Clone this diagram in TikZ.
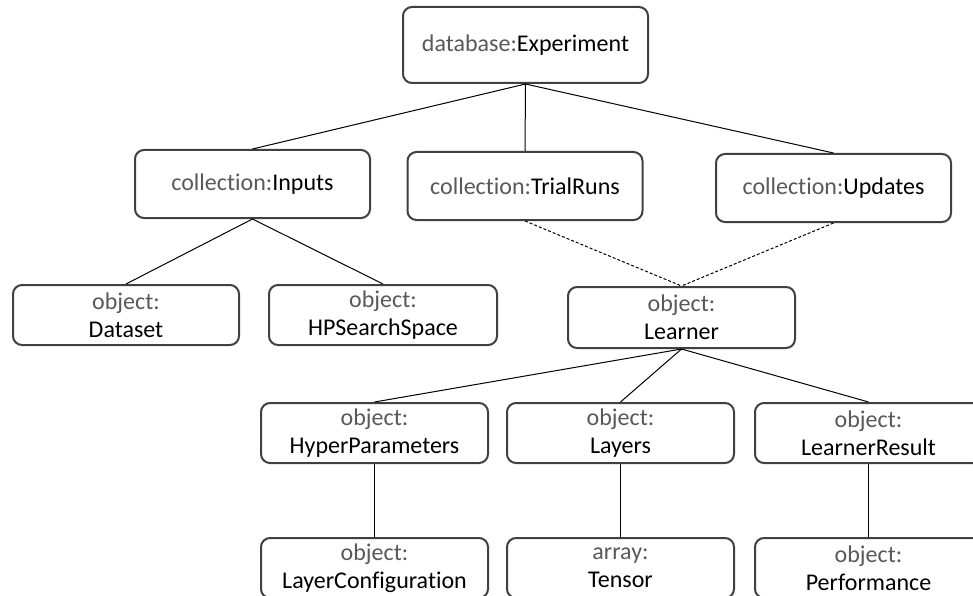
\documentclass[tikz,border=0pt]{standalone}
\usepackage{fontspec}
\setmainfont[Ligatures={NoCommon,NoContextual}]{Carlito}
\definecolor{boxline}{HTML}{404040}
\definecolor{pre}{HTML}{595959}
\begin{document}
\begin{tikzpicture}[x=1pt,y=-1pt,
 box/.style={draw=boxline, line width=2pt, rounded corners=9pt, fill=white, inner sep=0pt, align=center, font=\fontsize{24}{28}\selectfont},
 coll/.style={box, minimum width=235pt, minimum height=68pt},
 obj/.style={box, minimum width=227pt, minimum height=60pt},
 link/.style={line width=1pt},
 dlink/.style={line width=1pt, dash pattern=on 3pt off 2pt}]
\useasboundingbox (0,0) rectangle (973,596);
% top
\node[box, minimum width=245pt, minimum height=76pt] (exp) at (525.5,45) {\textcolor{pre}{database:}Experiment};
% collections
\node[coll] (inputs) at (252.5,184) {\textcolor{pre}{collection:}Inputs};
\node[coll] (trial) at (525,186) {\textcolor{pre}{collection:}TrialRuns};
\node[coll] (upd) at (833.5,188) {\textcolor{pre}{collection:}Updates};
% row 3
\node[obj, minimum width=226pt] (data) at (126,315) {\textcolor{pre}{object:}\\Dataset};
\node[obj, minimum width=228pt] (hps) at (383,315) {\textcolor{pre}{object:}\\HPSearchSpace};
\node[obj, minimum width=227pt, minimum height=61pt] (learner) at (681.5,317.5) {\textcolor{pre}{object:}\\Learner};
% row 4
\node[obj] (hyper) at (374.5,433) {\textcolor{pre}{object:}\\HyperParameters};
\node[obj] (layers) at (620.5,433) {\textcolor{pre}{object:}\\Layers};
\node[obj] (lres) at (868.5,433) {\textcolor{pre}{object:}\\LearnerResult};
% row 5
\node[obj] (lconf) at (374.5,568) {\textcolor{pre}{object:}\\LayerConfiguration};
\node[obj] (tensor) at (620.5,568) {\textcolor{pre}{array:}\\Tensor};
\node[obj] (perf) at (868.5,568) {\textcolor{pre}{object:}\\Performance};
% connectors
\draw[link] (exp.south) -- (inputs.north);
\draw[link] (exp.south) -- (trial.north);
\draw[link] (exp.south) -- (upd.north);
\draw[link] (inputs.south) -- (data.north);
\draw[link] (inputs.south) -- (hps.north);
\draw[dlink] (trial.south) -- (learner.north);
\draw[dlink] (upd.south) -- (learner.north);
\draw[link] (learner.south) -- (hyper.north);
\draw[link] (learner.south) -- (layers.north);
\draw[link] (learner.south) -- (lres.north);
\draw[link] (hyper.south) -- (lconf.north);
\draw[link] (layers.south) -- (tensor.north);
\draw[link] (lres.south) -- (perf.north);
\end{tikzpicture}
\end{document}
